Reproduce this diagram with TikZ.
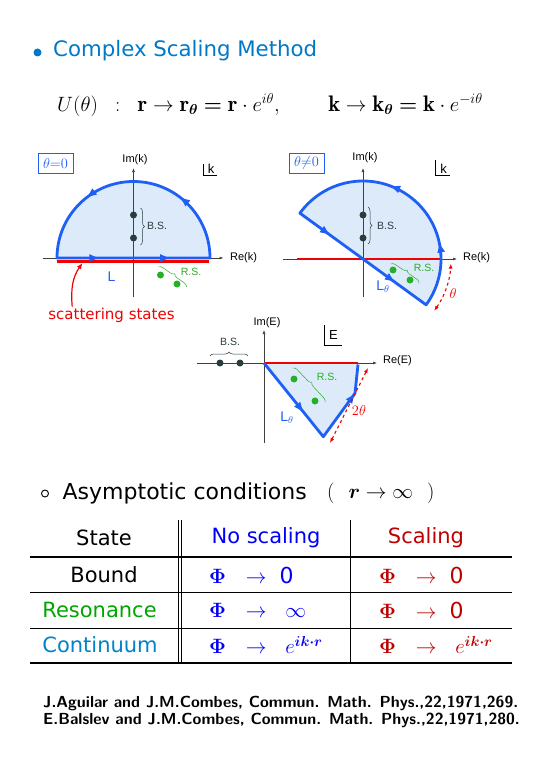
\documentclass[tikz,border=0pt]{standalone}
\usepackage{amsmath,bm}
\usepackage{fontspec}
\newfontfamily\slidefont{DejaVu Sans}
\newfontfamily\labelfont{Liberation Sans}
\usetikzlibrary{arrows.meta,decorations.markings,decorations.pathreplacing}

\definecolor{titleblue}{RGB}{0,120,200}
\definecolor{pathblue}{RGB}{30,95,245}
\definecolor{regionblue}{RGB}{220,234,250}
\definecolor{bsgray}{RGB}{40,62,62}
\definecolor{rsgreen}{RGB}{40,175,40}
\definecolor{cutred}{RGB}{240,0,0}
\definecolor{noscale}{RGB}{0,0,250}
\definecolor{withscale}{RGB}{190,0,0}
\definecolor{resgreen}{RGB}{0,165,0}
\definecolor{contblue}{RGB}{0,130,200}

\newcommand{\flowtip}{\arrow{Triangle[length=9pt,width=7pt]}}

\begin{document}
\begin{tikzpicture}
 [x=1pt,y=1pt,
  axis line/.style={draw=black!75, line width=0.6pt, -{Latex[length=4pt,width=3pt]}},
  contour/.style={color=pathblue, line width=2.8pt, line join=round},
  region/.style={fill=regionblue},
  cut/.style={draw=cutred, line width=2.5pt},
  bound state/.style={circle, fill=bsgray, inner sep=0pt, minimum size=7pt},
  resonance/.style={circle, fill=rsgreen, inner sep=0pt, minimum size=7pt},
  small label/.style={inner sep=0pt, font=\labelfont\fontsize{10.5}{12}\selectfont},
  axis label/.style={inner sep=0pt, font=\labelfont\fontsize{11}{12}\selectfont},
  plane label/.style={inner sep=0pt, font=\labelfont\fontsize{13}{14}\selectfont},
  path label/.style={inner sep=0pt, text=pathblue, font=\labelfont\fontsize{14}{15}\selectfont},
  bs brace/.style={draw=bsgray, line width=0.5pt, decorate, decoration={brace, amplitude=4pt}},
  rs brace/.style={draw=rsgreen, line width=0.5pt, decorate, decoration={brace, amplitude=4pt}},
  angle arc/.style={draw=cutred, dashed, line width=1.1pt, {Latex[length=5pt,width=4pt]}-{Latex[length=5pt,width=4pt]}},
  theta box/.style={draw=pathblue, line width=0.9pt, text=pathblue, minimum width=35pt, minimum height=20pt, inner sep=1pt, font=\fontsize{14}{15}\selectfont},
  slide text/.style={inner sep=0pt, font=\slidefont\fontsize{21.3}{24}\selectfont},
  table text/.style={inner sep=0pt, font=\slidefont\fontsize{21}{24}\selectfont},
  table math/.style={inner sep=0pt, anchor=west, font=\fontsize{22}{24}\selectfont},
  thick rule/.style={line width=1.8pt},
  thin rule/.style={line width=0.8pt}]

\useasboundingbox (0,0) rectangle (543,-768);

% heading and transformation
\node[circle, fill=titleblue, minimum size=8pt, inner sep=0pt] (bullet) at (37.5,-52.5) {};
\node[slide text, text=titleblue, anchor=west] (title) at (53,-50.5) {Complex Scaling Method};
\node[inner sep=0pt, font=\fontsize{22.5}{25}\selectfont] (formula) at (270,-105)
  {$U(\theta)\;\;:\;\;\mathbf{r}\rightarrow\mathbf{r}_{\bm\theta}\mathrel{\bm=}\mathbf{r}\cdot e^{i\theta},\qquad
    \mathbf{k}\rightarrow\mathbf{k}_{\bm\theta}\mathrel{\bm=}\mathbf{k}\cdot e^{-i\theta}$};

% k plane, theta = 0
\node[theta box] (box0) at (55.5,-163) {$\theta{=}0$};
\begin{scope}[shift={(133.5,-258)}]
  \fill[region] (-76.5,0) arc[start angle=180, end angle=0, radius=76.5] -- cycle;
  \draw[axis line] (-90.5,0) -- (90,0);
  \draw[axis line] (0,-39) -- (0,90);
  \draw[cut] (-77,-3.5) -- (75,-3.5);
  \coordinate (cut1) at (-51,-5);
  \draw[contour, postaction={decorate}, decoration={markings,
      mark=at position 0.105 with {\flowtip}, mark=at position 0.285 with {\flowtip},
      mark=at position 0.565 with {\flowtip}, mark=at position 0.82 with {\flowtip}}]
    (-76.5,0) -- (76.5,0) arc[start angle=0, end angle=180, radius=76.5] -- cycle;
  \node[bound state] (b11) at (0,43) {};
  \node[bound state] (b12) at (0,20) {};
  \draw[bs brace] (7,50) -- (7,13);
  \node[resonance] (r11) at (27,-17) {};
  \node[resonance] (r12) at (43.5,-26) {};
  \draw[rs brace] (25,-9) -- (53,-29);
\end{scope}
\node[axis label] (imk1) at (135,-160) {Im(k)};
\node[axis label] (rek1) at (243.5,-258) {Re(k)};
\node[small label, text=bsgray] (bs1) at (157,-226) {B.S.};
\node[small label, text=rsgreen] (rs1) at (191,-272) {R.S.};
\node[path label] (L1) at (111.5,-277) {L};
\draw[line width=0.6pt] (203.3,-164) |- (217,-175);
\node[plane label] (k1) at (211,-168.5) {k};
\node[inner sep=0pt, text=cutred, font=\slidefont\fontsize{15}{17}\selectfont] (scattering) at (111.5,-315) {scattering states};
\draw[cutred, line width=1.2pt, -{Latex[length=6pt,width=5pt]}] (scattering.north west) ++(24,1) to[out=95, in=235] (cut1);

% k plane, rotated contour
\node[theta box] (boxtheta) at (306.5,-163) {$\theta{\neq}0$};
\begin{scope}[shift={(363,-259)}]
  \fill[region] (144:78) -- (-36:78) arc[start angle=-36, end angle=144, radius=78] -- cycle;
  \draw[axis line] (-80,0) -- (94,0);
  \draw[axis line] (0,-38) -- (0,91);
  \draw[cut] (-66,0) -- (79,0);
  \draw[contour, postaction={decorate}, decoration={markings,
      mark=at position 0.09 with {\flowtip}, mark=at position 0.29 with {\flowtip},
      mark=at position 0.55 with {\flowtip}, mark=at position 0.745 with {\flowtip}}]
    (144:78) -- (-36:78) arc[start angle=-36, end angle=144, radius=78] -- cycle;
  \draw[angle arc] (-36:88) arc[start angle=-36, end angle=-3, radius=88];
  \node[bound state] (b21) at (0,44) {};
  \node[bound state] (b22) at (0,21) {};
  \draw[bs brace] (5,52) -- (5,15);
  \node[resonance] (r21) at (30,-11) {};
  \node[resonance] (r22) at (47,-21) {};
  \draw[rs brace] (28,-5) -- (56,-24);
\end{scope}
\node[axis label] (imk2) at (365,-158) {Im(k)};
\node[axis label] (rek2) at (476.5,-258) {Re(k)};
\node[small label, text=bsgray] (bs2) at (387,-226) {B.S.};
\node[small label, text=rsgreen] (rs2) at (424,-268) {R.S.};
\node[path label] (L2) at (383,-287) {L$_\theta$};
\node[inner sep=0pt, text=cutred, font=\fontsize{14}{15}\selectfont] (theta2) at (453,-293) {$\theta$};
\draw[line width=0.6pt] (435.7,-160) |- (450,-175);
\node[plane label] (k2) at (443.5,-168.5) {k};

% energy plane
\begin{scope}[shift={(264,-363)}]
  \fill[region] (0,0) -- (94,0) -- (94,-2) -- (91,-30.3) -- (59.3,-73.7) -- cycle;
  \draw[axis line] (-67,0) -- (113,0);
  \draw[axis line] (0,-80) -- (0,33);
  \draw[cut] (0,0) -- (94,0);
  \draw[contour, postaction={decorate}, decoration={markings,
      mark=at position 0.35 with {\flowtip}, mark=at position 0.83 with {\flowtip}}]
    (0,0) -- (59.3,-73.7) -- (91,-30.3) -- (94,-1.5);
  \draw[angle arc] (66,-80) -- (104,-5);
  \node[bound state] (b31) at (-44,0) {};
  \node[bound state] (b32) at (-24,0) {};
  \draw[bs brace] (-54,7) -- (-16,7);
  \node[resonance] (r31) at (30,-16) {};
  \node[resonance] (r32) at (51,-38) {};
  \draw[rs brace] (29,-5) -- (61,-39);
\end{scope}
\node[axis label] (imE) at (267,-323) {Im(E)};
\node[axis label] (reE) at (397.5,-361) {Re(E)};
\node[small label, text=bsgray] (bs3) at (230,-342) {B.S.};
\node[small label, text=rsgreen] (rs3) at (327,-377) {R.S.};
\node[path label] (L3) at (287,-418) {L$_\theta$};
\node[inner sep=0pt, text=cutred, font=\fontsize{14}{15}\selectfont] (twotheta) at (359,-410) {$2\theta$};
\draw[line width=0.6pt] (324.3,-325) |- (341.7,-345);
\node[plane label] (E3) at (333.5,-335) {E};

% asymptotic conditions
\node[circle, draw, line width=0.9pt, minimum size=7pt, inner sep=0pt] (obullet) at (45,-493.5) {};
\node[slide text, font=\slidefont\fontsize{22}{24}\selectfont, anchor=west] (asym) at (62.5,-493)
  {Asymptotic conditions};
\node[inner sep=0pt, anchor=west, font=\fontsize{22}{24}\selectfont] (limit) at (327,-493)
  {$(\hspace{14pt}\bm{r}\rightarrow\infty\hspace{14pt})$};

% table
\draw[thin rule] (178.3,-520) -- (178.3,-663);
\draw[thin rule] (181.7,-520) -- (181.7,-663);
\draw[thin rule] (350,-520) -- (350,-663);
\draw[thick rule] (30,-556.7) -- (512,-556.7);
\draw[thin rule] (30,-592.7) -- (512,-592.7);
\draw[thin rule] (30,-628.7) -- (512,-628.7);
\draw[thick rule] (30,-663.3) -- (512,-663.3);

\node[table text] (state) at (104,-538) {State};
\node[table text, text=noscale] (noscaling) at (266,-538) {No scaling};
\node[table text, text=withscale] (scaling) at (426,-538) {Scaling};
\node[table text] (bound) at (104,-575) {Bound};
\node[table text, text=resgreen] (resonance) at (99.5,-610) {Resonance};
\node[table text, text=contblue] (continuum) at (100,-645) {Continuum};

\node[table math, text=noscale] (nb) at (209,-575) {$\bm\Phi\hspace{14pt}\rightarrow\hspace{13pt}$\slidefont 0};
\node[table math, text=noscale] (nr) at (209,-610) {$\bm\Phi\hspace{14pt}\rightarrow\hspace{13pt}\infty$};
\node[table math, text=noscale] (nc) at (209,-645) {$\bm\Phi\hspace{14pt}\rightarrow\hspace{13pt}e^{\bm{ik\cdot r}}$};
\node[table math, text=withscale] (sb) at (379,-575) {$\bm\Phi\hspace{14pt}\rightarrow\hspace{13pt}$\slidefont 0};
\node[table math, text=withscale] (sr) at (379,-610) {$\bm\Phi\hspace{14pt}\rightarrow\hspace{13pt}$\slidefont 0};
\node[table math, text=withscale] (sc) at (379,-645) {$\bm\Phi\hspace{14pt}\rightarrow\hspace{13pt}e^{\bm{ik\cdot r}}$};

% references
\node[inner sep=0pt, anchor=west, font=\sffamily\bfseries\fontsize{16}{17}\selectfont] (ref1) at (43,-703)
  {J.Aguilar and J.M.Combes, Commun. Math. Phys.,22,1971,269.};
\node[inner sep=0pt, anchor=west, font=\sffamily\bfseries\fontsize{16}{17}\selectfont] (ref2) at (43,-720)
  {E.Balslev and J.M.Combes, Commun. Math. Phys.,22,1971,280.};

\end{tikzpicture}
\end{document}
